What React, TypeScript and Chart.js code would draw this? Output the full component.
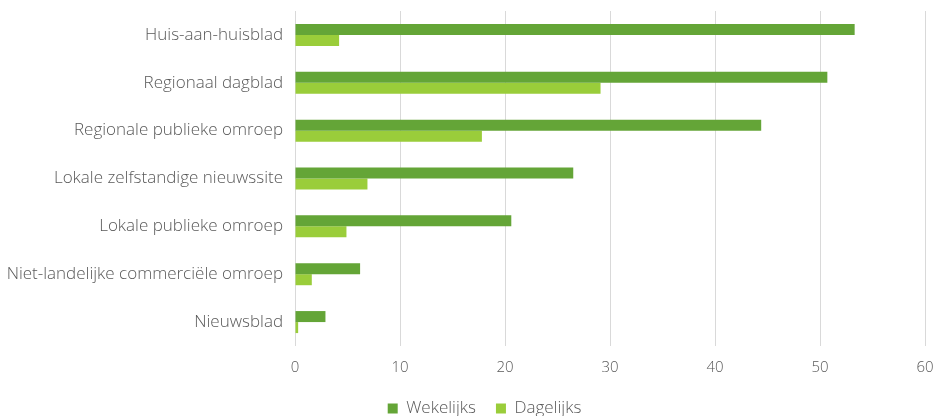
import React, { useEffect, useRef } from "react";
import { Chart, registerables } from "chart.js";

Chart.register(...registerables);

const categories = [
  "Huis-aan-huisblad",
  "Regionaal dagblad",
  "Regionale publieke omroep",
  "Lokale zelfstandige nieuwssite",
  "Lokale publieke omroep",
  "Niet-landelijke commerciële omroep",
  "Nieuwsblad",
];
const wekelijks = [53.3, 50.7, 44.4, 26.5, 20.6, 6.2, 2.9];
const dagelijks = [4.2, 29.1, 17.8, 6.9, 4.9, 1.6, 0.3];
const xTicks = [0, 10, 20, 30, 40, 50, 60];

const FONT = "'Open Sans', 'Noto Sans', sans-serif";
const TEXT = "#595959";
const W = 938;
const H = 427;

const shiftLegend = {
  id: "shiftLegend",
  afterLayout(chart: any) {
    const l = chart.legend;
    if (l) {
      l.left += 22;
      l.right += 22;
    }
  },
};

export default function App() {
  const ref = useRef<HTMLCanvasElement | null>(null);
  useEffect(() => {
    if (!ref.current) return;
    const chart = new Chart(ref.current, {
      type: "bar",
      data: {
        labels: categories,
        datasets: [
          {
            label: "Wekelijks",
            data: wekelijks,
            backgroundColor: "#64a537",
            borderWidth: 0,
            categoryPercentage: 0.46,
            barPercentage: 1,
          },
          {
            label: "Dagelijks",
            data: dagelijks,
            backgroundColor: "#9acd3a",
            borderWidth: 0,
            categoryPercentage: 0.46,
            barPercentage: 1,
          },
        ],
      },
      plugins: [shiftLegend],
      options: {
        indexAxis: "y",
        animation: false,
        responsive: false,
        maintainAspectRatio: false,
        layout: { padding: { top: 11, right: 13, left: 0, bottom: 0 } },
        plugins: {
          tooltip: { enabled: false },
          legend: {
            position: "bottom",
            labels: {
              color: TEXT,
              font: { family: FONT, size: 17, weight: 300 },
              boxWidth: 10,
              boxHeight: 10,
              padding: 20,
            },
          },
        },
        scales: {
          x: {
            min: 0,
            max: 60,
            afterBuildTicks: (s: any) => {
              s.ticks = xTicks.map((v) => ({ value: v }));
            },
            afterFit: (s: any) => {
              s.height = 34;
              s.paddingLeft = 0;
              s.paddingRight = 0;
            },
            grid: { color: "#d9d9d9", lineWidth: 1, drawTicks: false },
            border: { display: false },
            ticks: {
              color: TEXT,
              font: { family: FONT, size: 15, weight: 300 },
              padding: 13,
            },
          },
          y: {
            afterFit: (s: any) => {
              s.width = 295;
              s.paddingTop = 0;
              s.paddingBottom = 0;
            },
            grid: { display: false, drawTicks: false },
            border: { display: false },
            ticks: {
              color: TEXT,
              font: { family: FONT, size: 17, weight: 300 },
              padding: 12,
            },
          },
        },
      },
    });
    return () => chart.destroy();
  }, []);
  return (
    <div
      style={{
        position: "fixed",
        left: 0,
        top: 0,
        width: W,
        height: 416,
        overflow: "hidden",
        background: "#fff",
      }}
    >
      <canvas ref={ref} width={W} height={H} style={{ width: W, height: H, display: "block" }} />
    </div>
  );
}
